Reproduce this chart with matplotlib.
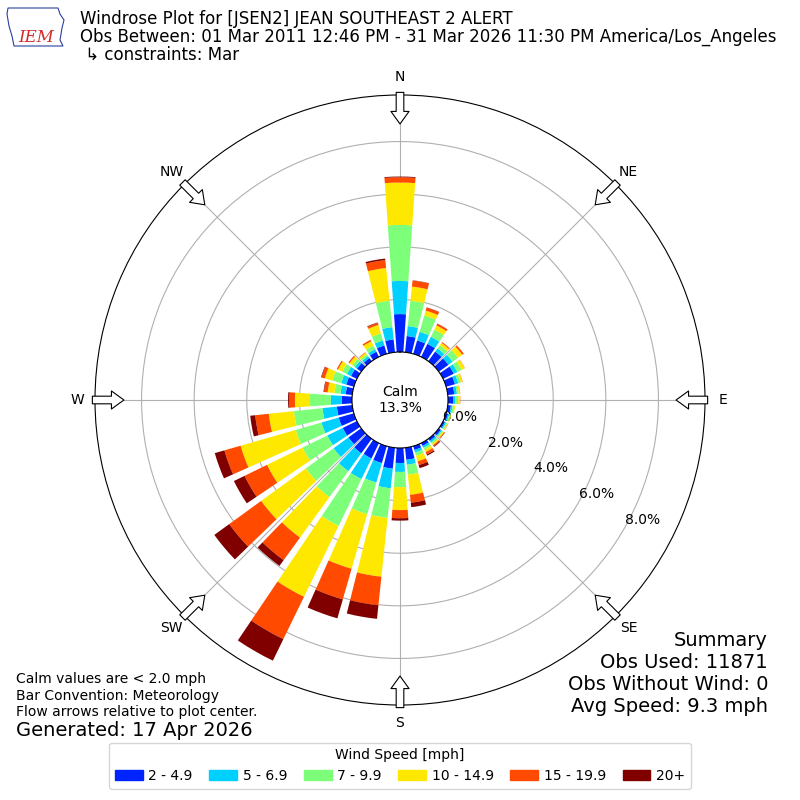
import numpy as np
import matplotlib
matplotlib.use("Agg")
import matplotlib.pyplot as plt
from matplotlib.patches import Patch, Polygon

###############################################
# DATA  (percent of observations per 10 deg bin)
###############################################

directions = np.arange(0, 360, 10)

speed_labels = ["2 - 4.9", "5 - 6.9", "7 - 9.9", "10 - 14.9", "15 - 19.9", "20+"]
speed_colors = ["#0024ff", "#00d0ff", "#7dff7a", "#ffe800", "#ff4a00", "#800000"]

pct_2_5 = [1.44, 0.62, 0.53, 0.55, 0.45, 0.45, 0.45, 0.35, 0.25, 0.20, 0.12, 0.08,
           0.08, 0.10, 0.10, 0.12, 0.15, 0.46, 0.57, 0.80, 0.67, 0.65, 0.68, 0.60,
           0.60, 0.60, 0.59, 0.39, 0.25, 0.30, 0.25, 0.20, 0.15, 0.22, 0.33, 0.49]
pct_5_7 = [1.26, 0.38, 0.34, 0.30, 0.15, 0.20, 0.15, 0.13, 0.10, 0.07, 0.06, 0.05,
           0.05, 0.05, 0.07, 0.08, 0.10, 0.19, 0.34, 0.75, 0.77, 0.87, 0.84, 0.70,
           0.65, 0.68, 0.55, 0.42, 0.20, 0.20, 0.17, 0.10, 0.09, 0.11, 0.20, 0.47]
pct_7_10 = [2.13, 0.97, 0.65, 0.30, 0.15, 0.25, 0.18, 0.10, 0.07, 0.12, 0.06, 0.05,
            0.05, 0.05, 0.07, 0.08, 0.13, 0.38, 0.58, 1.13, 1.25, 1.98, 1.22, 1.30,
            1.05, 1.02, 1.09, 0.79, 0.23, 0.35, 0.20, 0.12, 0.08, 0.15, 0.28, 1.01]
pct_10_15 = [1.61, 0.54, 0.19, 0.18, 0.11, 0.20, 0.13, 0.07, 0.05, 0.07, 0.04, 0.03,
             0.03, 0.05, 0.06, 0.10, 0.22, 0.77, 0.87, 2.25, 2.16, 3.00, 1.90, 2.10,
             1.50, 2.18, 0.96, 0.57, 0.26, 0.30, 0.18, 0.13, 0.08, 0.18, 0.33, 1.25]
pct_15_20 = [0.20, 0.23, 0.12, 0.07, 0.04, 0.07, 0.01, 0.01, 0.01, 0.01, 0.00, 0.00,
             0.01, 0.03, 0.05, 0.10, 0.15, 0.30, 0.31, 1.09, 1.21, 1.79, 1.06, 1.50,
             0.95, 0.64, 0.52, 0.21, 0.14, 0.13, 0.05, 0.05, 0.02, 0.06, 0.08, 0.30]
pct_20p = [0.03, 0.01, 0.01, 0.01, 0.00, 0.00, 0.00, 0.00, 0.00, 0.00, 0.00, 0.00,
           0.00, 0.01, 0.03, 0.05, 0.12, 0.17, 0.09, 0.52, 0.75, 0.91, 0.27, 0.70,
           0.45, 0.38, 0.19, 0.05, 0.02, 0.02, 0.00, 0.00, 0.00, 0.00, 0.02, 0.06]

classes = [pct_2_5, pct_5_7, pct_7_10, pct_10_15, pct_15_20, pct_20p]

calm_pct = 13.3
ring_ticks = [0, 2, 4, 6, 8]
compass = ["N", "NE", "E", "SE", "S", "SW", "W", "NW"]

###############################################
# FIGURE
###############################################

fig = plt.figure(figsize=(8, 8), dpi=100)
ax = fig.add_axes([0.11875, 0.11875, 0.7625, 0.7625], projection="polar")
ax.set_theta_zero_location("N")
ax.set_theta_direction(-1)

theta = np.deg2rad(directions)
bottom = np.zeros(len(directions))
for vals, color, label in zip(classes, speed_colors, speed_labels):
    ax.bar(theta, vals, width=np.deg2rad(8), bottom=bottom, color=color,
           linewidth=0, label=label, zorder=2)
    bottom += np.array(vals)

ax.set_rorigin(-1.825)
ax.set_ylim(0, 9.77)
ax.set_yticks(ring_ticks)
ax.set_yticklabels(["%.1f%%" % v for v in ring_ticks], fontsize=10)
ax.set_rlabel_position(119.5)

ax.set_xticks(np.deg2rad(np.arange(0, 360, 45)))
ax.set_xticklabels(compass, fontsize=10)
ax.tick_params(axis="x", pad=2.5)
ax.grid(True, color="#b0b0b0", lw=0.8)

# flow arrows on the rim
for t in np.arange(0, 360, 45):
    ax.annotate("", xy=(np.deg2rad(t), 8.67), xytext=(np.deg2rad(t), 9.87),
                arrowprops=dict(arrowstyle="simple,head_length=0.9,head_width=1.3,tail_width=0.55",
                                fc="white", ec="black", lw=0.8, shrinkA=0, shrinkB=0),
                annotation_clip=False, zorder=5)

fig.text(0.5, 0.5, "Calm\n%.1f%%" % calm_pct, ha="center", va="center", fontsize=10)

###############################################
# TEXT
###############################################

fig.text(0.1, 1 - 19 / 800, "Windrose Plot for [JSEN2] JEAN SOUTHEAST 2 ALERT",
         fontsize=12, va="center")
fig.text(0.1, 1 - 37 / 800,
         "Obs Between: 01 Mar 2011 12:46 PM - 31 Mar 2026 11:30 PM America/Los_Angeles",
         fontsize=12, va="center")
fig.text(0.1, 1 - 55 / 800, " \u21b3 constraints: Mar", fontsize=12, va="center")

# little IEM logo
iowa = [(8, 8), (58, 8), (60, 14), (64, 20), (62, 28), (60, 40), (63, 46),
        (14, 46), (12, 36), (9, 26), (7, 14)]
fig.patches.append(Polygon([(x / 800, 1 - y / 800) for x, y in iowa], closed=True,
                           fill=False, ec="#2b3f9e", lw=0.8, transform=fig.transFigure))
fig.text(0.045, 1 - 38 / 800, "IEM", color="#d42a2a", fontsize=12, family="serif",
         style="italic", ha="center", va="center")

fig.text(0.02, 1 - 679 / 800, "Calm values are < 2.0 mph", fontsize=10, va="center")
fig.text(0.02, 1 - 696 / 800, "Bar Convention: Meteorology", fontsize=10, va="center")
fig.text(0.02, 1 - 712 / 800, "Flow arrows relative to plot center.", fontsize=10, va="center")
fig.text(0.02, 1 - 730 / 800, "Generated: 17 Apr 2026", fontsize=14, va="center")

summary = ["Summary", "Obs Used: 11871", "Obs Without Wind: 0", "Avg Speed: 9.3 mph"]
for i, s in enumerate(summary):
    fig.text(0.96, 1 - (640 + 22 * i) / 800, s, fontsize=14, ha="right", va="center")

handles = [Patch(color=c, label=l) for c, l in zip(speed_colors, speed_labels)]
fig.legend(handles=handles, loc="center", bbox_to_anchor=(0.5, 0.043), ncol=6,
           title="Wind Speed [mph]", fontsize=10, title_fontsize=10,
           handletextpad=0.4, columnspacing=1.2)

fig.savefig("out.png", dpi=100)
